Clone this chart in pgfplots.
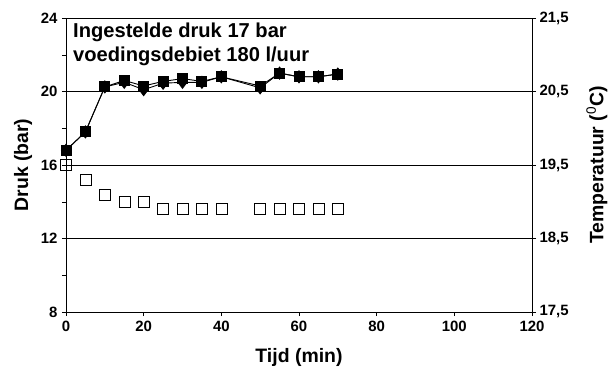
\documentclass[border=0pt]{standalone}
\usepackage{pgfplots}
\pgfplotsset{compat=1.18}
\usepackage{fontspec}
\setmainfont{Liberation Sans}
\begin{document}
\begin{tikzpicture}
\useasboundingbox (0,0) rectangle (613bp,372bp);
\pgfplotsset{
  every axis/.append style={
    scale only axis, width=466bp, height=294bp,
    at={(66bp,60bp)}, anchor=south west,
    xmin=0, xmax=120,
    tick style={black, thin},
    tick align=outside,
    major tick length=4bp, minor tick length=4bp,
    ticklabel style={font=\bfseries\fontsize{15}{17}\selectfont},
    label style={font=\bfseries\fontsize{19.5}{21}\selectfont},
    /pgf/number format/assume math mode=true,
  }
}
\begin{axis}[
  axis y line*=left,
  axis x line*=bottom,
  ymin=8, ymax=24,
  ytick={8,12,16,20,24},
  minor ytick={10,14,18,22},
  xtick={0,20,40,60,80,100,120},
  ymajorgrids=true,
  grid style={black, thin},
  xlabel={Tijd (min)},
  ylabel={Druk (bar)},
  xlabel style={at={(axis description cs:0.5,-0.153)}, anchor=center},
  ylabel style={at={(axis description cs:-0.0923,0.5)}, anchor=center},
  yticklabel style={xshift=-1bp},
  xticklabel style={yshift=-2bp},
  clip=false,
]
\addplot[black, line width=0.9bp, mark=square*, mark size=5bp, mark options={solid, fill=black}] coordinates {
(0,16.8) (5,17.8) (10,20.25) (15,20.6) (20,20.3) (25,20.55) (30,20.7) (35,20.55) (40,20.8) (50,20.3) (55,21.0) (60,20.8) (65,20.8) (70,20.95)
};
\addplot[black, line width=0.9bp, mark=diamond*, mark size=6bp, mark options={solid, fill=black}] coordinates {
(0,16.8) (5,17.8) (10,20.25) (15,20.5) (20,20.1) (25,20.45) (30,20.5) (35,20.5) (40,20.8) (50,20.2) (55,21.0) (60,20.8) (65,20.8) (70,20.95)
};
\node[anchor=north west, align=left, font=\bfseries\fontsize{20.2}{25}\selectfont, inner sep=0pt] at (axis cs:1.8,23.77) {Ingestelde druk 17 bar\\voedingsdebiet 180 l/uur};
\draw[black, thin] (axis cs:0,24) -- (axis cs:120,24);
\end{axis}
\begin{axis}[
  axis y line*=right,
  axis x line=none,
  ymin=17.5, ymax=21.5,
  ytick={17.5,18.5,19.5,20.5,21.5},
  yticklabel style={/pgf/number format/.cd, fixed, fixed zerofill, precision=1, use comma},
  ylabel={Temperatuur ($^{\mathrm{0}}$C)},
  ylabel style={at={(axis description cs:1.1395,0.5)}, anchor=center},
  clip=false,
]
\addplot[only marks, mark=square, mark size=5.5bp, mark options={black, thin, fill=white}] coordinates {
(0,19.5) (5,19.3) (10,19.1) (15,19.0) (20,19.0) (25,18.9) (30,18.9) (35,18.9) (40,18.9) (50,18.9) (55,18.9) (60,18.9) (65,18.9) (70,18.9)
};
\end{axis}
\end{tikzpicture}
\end{document}
